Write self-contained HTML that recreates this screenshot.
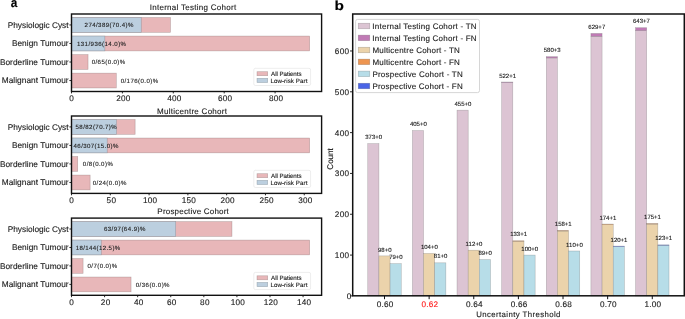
<!DOCTYPE html>
<html><head><meta charset="utf-8"><style>
html,body{margin:0;padding:0;background:#fff;overflow:hidden;}
svg{display:block;font-family:"Liberation Sans",sans-serif;will-change:transform;text-rendering:geometricPrecision;}
text{stroke:currentColor;stroke-width:0.12px;}
</style></head><body>
<svg width="685" height="319" viewBox="0 0 685 319">
<rect width="685" height="319" fill="#fff"/>
<rect x="71.50" y="17.52" width="98.99" height="14.83" fill="#e8b7b9" stroke="rgba(120,100,100,0.45)" stroke-width="0.6"/>
<rect x="71.50" y="17.52" width="69.73" height="14.83" fill="#bccfdf" stroke="rgba(100,110,120,0.45)" stroke-width="0.6"/>
<rect x="71.50" y="36.06" width="238.19" height="14.83" fill="#e8b7b9" stroke="rgba(120,100,100,0.45)" stroke-width="0.6"/>
<rect x="71.50" y="36.06" width="33.34" height="14.83" fill="#bccfdf" stroke="rgba(100,110,120,0.45)" stroke-width="0.6"/>
<rect x="71.50" y="54.60" width="16.54" height="14.83" fill="#e8b7b9" stroke="rgba(120,100,100,0.45)" stroke-width="0.6"/>
<rect x="71.50" y="73.14" width="44.79" height="14.83" fill="#e8b7b9" stroke="rgba(120,100,100,0.45)" stroke-width="0.6"/>
<text x="84.59" y="27.39" font-size="6.1" textLength="48.72" lengthAdjust="spacing" fill="#222" color="#222">274/389(70.4)%</text>
<text x="76.94" y="45.93" font-size="6.1" textLength="49.08" lengthAdjust="spacing" fill="#222" color="#222">131/936(14.0)%</text>
<text x="91.66" y="64.47" font-size="6.1" textLength="33.56" lengthAdjust="spacing" fill="#222" color="#222">0/65(0.0)%</text>
<text x="120.66" y="83.01" font-size="6.1" textLength="37.46" lengthAdjust="spacing" fill="#222" color="#222">0/176(0.0)%</text>
<line x1="69.40" y1="24.94" x2="71.50" y2="24.94" stroke="#111" stroke-width="0.9"/>
<text x="7.67" y="27.79" font-size="8.3" textLength="60.89" lengthAdjust="spacing" fill="#1a1a1a" color="#1a1a1a">Physiologic Cyst</text>
<line x1="69.40" y1="43.48" x2="71.50" y2="43.48" stroke="#111" stroke-width="0.9"/>
<text x="11.89" y="46.33" font-size="8.3" textLength="56.75" lengthAdjust="spacing" fill="#1a1a1a" color="#1a1a1a">Benign Tumour</text>
<line x1="69.40" y1="62.02" x2="71.50" y2="62.02" stroke="#111" stroke-width="0.9"/>
<text x="-0.10" y="64.87" font-size="8.3" textLength="68.73" lengthAdjust="spacing" fill="#1a1a1a" color="#1a1a1a">Borderline Tumour</text>
<line x1="69.40" y1="80.56" x2="71.50" y2="80.56" stroke="#111" stroke-width="0.9"/>
<text x="1.75" y="83.41" font-size="8.3" textLength="66.89" lengthAdjust="spacing" fill="#1a1a1a" color="#1a1a1a">Malignant Tumour</text>
<line x1="71.50" y1="91.50" x2="71.50" y2="93.40" stroke="#111" stroke-width="0.9"/>
<text x="69.36" y="100.80" font-size="8.2" textLength="4.68" lengthAdjust="spacing" fill="#1a1a1a" color="#1a1a1a">0</text>
<line x1="122.40" y1="91.50" x2="122.40" y2="93.40" stroke="#111" stroke-width="0.9"/>
<text x="116.31" y="100.80" font-size="8.2" textLength="14.07" lengthAdjust="spacing" fill="#1a1a1a" color="#1a1a1a">200</text>
<line x1="173.29" y1="91.50" x2="173.29" y2="93.40" stroke="#111" stroke-width="0.9"/>
<text x="167.32" y="100.80" font-size="8.2" textLength="14.08" lengthAdjust="spacing" fill="#1a1a1a" color="#1a1a1a">400</text>
<line x1="224.19" y1="91.50" x2="224.19" y2="93.40" stroke="#111" stroke-width="0.9"/>
<text x="218.10" y="100.80" font-size="8.2" textLength="14.07" lengthAdjust="spacing" fill="#1a1a1a" color="#1a1a1a">600</text>
<line x1="275.08" y1="91.50" x2="275.08" y2="93.40" stroke="#111" stroke-width="0.9"/>
<text x="269.03" y="100.80" font-size="8.2" textLength="14.07" lengthAdjust="spacing" fill="#1a1a1a" color="#1a1a1a">800</text>
<rect x="253.8" y="68.30" width="56.8" height="17.2" rx="1.6" fill="#fff" fill-opacity="0.8" stroke="#e0e0e0" stroke-width="0.6"/>
<rect x="257.00" y="71.70" width="10.70" height="4.00" fill="#e8b7b9" stroke="rgba(120,100,100,0.45)" stroke-width="0.6"/>
<rect x="257.00" y="78.30" width="10.70" height="4.30" fill="#bccfdf" stroke="rgba(100,110,120,0.45)" stroke-width="0.6"/>
<text x="271.09" y="75.65" font-size="6.2" textLength="30.44" lengthAdjust="spacing" fill="#1a1a1a" color="#1a1a1a">All Patients</text>
<text x="270.39" y="82.55" font-size="6.2" textLength="37.05" lengthAdjust="spacing" fill="#1a1a1a" color="#1a1a1a">Low-risk Part</text>
<text x="149.66" y="9.90" font-size="8.0" textLength="86.50" lengthAdjust="spacing" fill="#1a1a1a" color="#1a1a1a">Internal Testing Cohort</text>
<rect x="71.50" y="14.00" width="250.10" height="77.50" fill="none" stroke="#111" stroke-width="1.4"/>
<rect x="71.50" y="119.52" width="63.62" height="14.81" fill="#e8b7b9" stroke="rgba(120,100,100,0.45)" stroke-width="0.6"/>
<rect x="71.50" y="119.52" width="45.00" height="14.81" fill="#bccfdf" stroke="rgba(100,110,120,0.45)" stroke-width="0.6"/>
<rect x="71.50" y="138.03" width="238.19" height="14.81" fill="#e8b7b9" stroke="rgba(120,100,100,0.45)" stroke-width="0.6"/>
<rect x="71.50" y="138.03" width="35.69" height="14.81" fill="#bccfdf" stroke="rgba(100,110,120,0.45)" stroke-width="0.6"/>
<rect x="71.50" y="156.55" width="6.21" height="14.81" fill="#e8b7b9" stroke="rgba(120,100,100,0.45)" stroke-width="0.6"/>
<rect x="71.50" y="175.07" width="18.62" height="14.81" fill="#e8b7b9" stroke="rgba(120,100,100,0.45)" stroke-width="0.6"/>
<text x="75.56" y="129.37" font-size="6.1" textLength="41.16" lengthAdjust="spacing" fill="#222" color="#222">58/82(70.7)%</text>
<text x="73.56" y="147.89" font-size="6.1" textLength="44.76" lengthAdjust="spacing" fill="#222" color="#222">46/307(15.0)%</text>
<text x="82.86" y="166.41" font-size="6.1" textLength="29.96" lengthAdjust="spacing" fill="#222" color="#222">0/8(0.0)%</text>
<text x="92.76" y="184.93" font-size="6.1" textLength="33.56" lengthAdjust="spacing" fill="#222" color="#222">0/24(0.0)%</text>
<line x1="69.40" y1="126.92" x2="71.50" y2="126.92" stroke="#111" stroke-width="0.9"/>
<text x="7.67" y="129.77" font-size="8.3" textLength="60.89" lengthAdjust="spacing" fill="#1a1a1a" color="#1a1a1a">Physiologic Cyst</text>
<line x1="69.40" y1="145.44" x2="71.50" y2="145.44" stroke="#111" stroke-width="0.9"/>
<text x="11.89" y="148.29" font-size="8.3" textLength="56.75" lengthAdjust="spacing" fill="#1a1a1a" color="#1a1a1a">Benign Tumour</text>
<line x1="69.40" y1="163.96" x2="71.50" y2="163.96" stroke="#111" stroke-width="0.9"/>
<text x="-0.10" y="166.81" font-size="8.3" textLength="68.73" lengthAdjust="spacing" fill="#1a1a1a" color="#1a1a1a">Borderline Tumour</text>
<line x1="69.40" y1="182.48" x2="71.50" y2="182.48" stroke="#111" stroke-width="0.9"/>
<text x="1.75" y="185.33" font-size="8.3" textLength="66.89" lengthAdjust="spacing" fill="#1a1a1a" color="#1a1a1a">Malignant Tumour</text>
<line x1="71.50" y1="193.40" x2="71.50" y2="195.30" stroke="#111" stroke-width="0.9"/>
<text x="69.36" y="202.70" font-size="8.2" textLength="4.68" lengthAdjust="spacing" fill="#1a1a1a" color="#1a1a1a">0</text>
<line x1="110.29" y1="193.40" x2="110.29" y2="195.30" stroke="#111" stroke-width="0.9"/>
<text x="106.60" y="202.70" font-size="8.2" textLength="9.38" lengthAdjust="spacing" fill="#1a1a1a" color="#1a1a1a">50</text>
<line x1="149.09" y1="193.40" x2="149.09" y2="195.30" stroke="#111" stroke-width="0.9"/>
<text x="142.90" y="202.70" font-size="8.2" textLength="14.06" lengthAdjust="spacing" fill="#1a1a1a" color="#1a1a1a">100</text>
<line x1="187.88" y1="193.40" x2="187.88" y2="195.30" stroke="#111" stroke-width="0.9"/>
<text x="181.70" y="202.70" font-size="8.2" textLength="14.06" lengthAdjust="spacing" fill="#1a1a1a" color="#1a1a1a">150</text>
<line x1="226.67" y1="193.40" x2="226.67" y2="195.30" stroke="#111" stroke-width="0.9"/>
<text x="220.59" y="202.70" font-size="8.2" textLength="14.07" lengthAdjust="spacing" fill="#1a1a1a" color="#1a1a1a">200</text>
<line x1="265.47" y1="193.40" x2="265.47" y2="195.30" stroke="#111" stroke-width="0.9"/>
<text x="259.39" y="202.70" font-size="8.2" textLength="14.07" lengthAdjust="spacing" fill="#1a1a1a" color="#1a1a1a">250</text>
<line x1="304.26" y1="193.40" x2="304.26" y2="195.30" stroke="#111" stroke-width="0.9"/>
<text x="298.23" y="202.70" font-size="8.2" textLength="14.07" lengthAdjust="spacing" fill="#1a1a1a" color="#1a1a1a">300</text>
<rect x="253.8" y="170.30" width="56.8" height="17.2" rx="1.6" fill="#fff" fill-opacity="0.8" stroke="#e0e0e0" stroke-width="0.6"/>
<rect x="257.00" y="173.70" width="10.70" height="4.00" fill="#e8b7b9" stroke="rgba(120,100,100,0.45)" stroke-width="0.6"/>
<rect x="257.00" y="180.30" width="10.70" height="4.30" fill="#bccfdf" stroke="rgba(100,110,120,0.45)" stroke-width="0.6"/>
<text x="271.09" y="177.65" font-size="6.2" textLength="30.44" lengthAdjust="spacing" fill="#1a1a1a" color="#1a1a1a">All Patients</text>
<text x="270.39" y="184.55" font-size="6.2" textLength="37.05" lengthAdjust="spacing" fill="#1a1a1a" color="#1a1a1a">Low-risk Part</text>
<text x="156.99" y="113.80" font-size="8.0" textLength="69.96" lengthAdjust="spacing" fill="#1a1a1a" color="#1a1a1a">Multicentre Cohort</text>
<rect x="71.50" y="116.00" width="250.10" height="77.40" fill="none" stroke="#111" stroke-width="1.4"/>
<rect x="71.50" y="221.61" width="160.45" height="14.78" fill="#e8b7b9" stroke="rgba(120,100,100,0.45)" stroke-width="0.6"/>
<rect x="71.50" y="221.61" width="104.21" height="14.78" fill="#bccfdf" stroke="rgba(100,110,120,0.45)" stroke-width="0.6"/>
<rect x="71.50" y="240.08" width="238.19" height="14.78" fill="#e8b7b9" stroke="rgba(120,100,100,0.45)" stroke-width="0.6"/>
<rect x="71.50" y="240.08" width="29.77" height="14.78" fill="#bccfdf" stroke="rgba(100,110,120,0.45)" stroke-width="0.6"/>
<rect x="71.50" y="258.55" width="11.58" height="14.78" fill="#e8b7b9" stroke="rgba(120,100,100,0.45)" stroke-width="0.6"/>
<rect x="71.50" y="277.02" width="59.55" height="14.78" fill="#e8b7b9" stroke="rgba(120,100,100,0.45)" stroke-width="0.6"/>
<text x="103.89" y="231.45" font-size="6.1" textLength="41.53" lengthAdjust="spacing" fill="#222" color="#222">63/97(64.9)%</text>
<text x="75.64" y="249.92" font-size="6.1" textLength="44.58" lengthAdjust="spacing" fill="#222" color="#222">18/144(12.5)%</text>
<text x="87.56" y="268.38" font-size="6.1" textLength="29.66" lengthAdjust="spacing" fill="#222" color="#222">0/7(0.0)%</text>
<text x="135.76" y="286.85" font-size="6.1" textLength="33.76" lengthAdjust="spacing" fill="#222" color="#222">0/36(0.0)%</text>
<line x1="69.40" y1="229.00" x2="71.50" y2="229.00" stroke="#111" stroke-width="0.9"/>
<text x="7.67" y="231.85" font-size="8.3" textLength="60.89" lengthAdjust="spacing" fill="#1a1a1a" color="#1a1a1a">Physiologic Cyst</text>
<line x1="69.40" y1="247.47" x2="71.50" y2="247.47" stroke="#111" stroke-width="0.9"/>
<text x="11.89" y="250.32" font-size="8.3" textLength="56.75" lengthAdjust="spacing" fill="#1a1a1a" color="#1a1a1a">Benign Tumour</text>
<line x1="69.40" y1="265.93" x2="71.50" y2="265.93" stroke="#111" stroke-width="0.9"/>
<text x="-0.10" y="268.78" font-size="8.3" textLength="68.73" lengthAdjust="spacing" fill="#1a1a1a" color="#1a1a1a">Borderline Tumour</text>
<line x1="69.40" y1="284.40" x2="71.50" y2="284.40" stroke="#111" stroke-width="0.9"/>
<text x="1.75" y="287.25" font-size="8.3" textLength="66.89" lengthAdjust="spacing" fill="#1a1a1a" color="#1a1a1a">Malignant Tumour</text>
<line x1="71.50" y1="295.30" x2="71.50" y2="297.20" stroke="#111" stroke-width="0.9"/>
<text x="69.36" y="304.60" font-size="8.2" textLength="4.68" lengthAdjust="spacing" fill="#1a1a1a" color="#1a1a1a">0</text>
<line x1="104.58" y1="295.30" x2="104.58" y2="297.20" stroke="#111" stroke-width="0.9"/>
<text x="100.85" y="304.60" font-size="8.2" textLength="9.37" lengthAdjust="spacing" fill="#1a1a1a" color="#1a1a1a">20</text>
<line x1="137.66" y1="295.30" x2="137.66" y2="297.20" stroke="#111" stroke-width="0.9"/>
<text x="134.04" y="304.60" font-size="8.2" textLength="9.38" lengthAdjust="spacing" fill="#1a1a1a" color="#1a1a1a">40</text>
<line x1="170.75" y1="295.30" x2="170.75" y2="297.20" stroke="#111" stroke-width="0.9"/>
<text x="167.01" y="304.60" font-size="8.2" textLength="9.37" lengthAdjust="spacing" fill="#1a1a1a" color="#1a1a1a">60</text>
<line x1="203.83" y1="295.30" x2="203.83" y2="297.20" stroke="#111" stroke-width="0.9"/>
<text x="200.12" y="304.60" font-size="8.2" textLength="9.37" lengthAdjust="spacing" fill="#1a1a1a" color="#1a1a1a">80</text>
<line x1="236.91" y1="295.30" x2="236.91" y2="297.20" stroke="#111" stroke-width="0.9"/>
<text x="230.73" y="304.60" font-size="8.2" textLength="14.06" lengthAdjust="spacing" fill="#1a1a1a" color="#1a1a1a">100</text>
<line x1="269.99" y1="295.30" x2="269.99" y2="297.20" stroke="#111" stroke-width="0.9"/>
<text x="263.81" y="304.60" font-size="8.2" textLength="14.06" lengthAdjust="spacing" fill="#1a1a1a" color="#1a1a1a">120</text>
<line x1="303.07" y1="295.30" x2="303.07" y2="297.20" stroke="#111" stroke-width="0.9"/>
<text x="296.89" y="304.60" font-size="8.2" textLength="14.06" lengthAdjust="spacing" fill="#1a1a1a" color="#1a1a1a">140</text>
<rect x="253.8" y="272.40" width="56.8" height="17.2" rx="1.6" fill="#fff" fill-opacity="0.8" stroke="#e0e0e0" stroke-width="0.6"/>
<rect x="257.00" y="275.80" width="10.70" height="4.00" fill="#e8b7b9" stroke="rgba(120,100,100,0.45)" stroke-width="0.6"/>
<rect x="257.00" y="282.40" width="10.70" height="4.30" fill="#bccfdf" stroke="rgba(100,110,120,0.45)" stroke-width="0.6"/>
<text x="271.09" y="279.75" font-size="6.2" textLength="30.44" lengthAdjust="spacing" fill="#1a1a1a" color="#1a1a1a">All Patients</text>
<text x="270.39" y="286.65" font-size="6.2" textLength="37.05" lengthAdjust="spacing" fill="#1a1a1a" color="#1a1a1a">Low-risk Part</text>
<text x="157.34" y="214.00" font-size="8.0" textLength="71.51" lengthAdjust="spacing" fill="#1a1a1a" color="#1a1a1a">Prospective Cohort</text>
<rect x="71.50" y="218.10" width="250.10" height="77.20" fill="none" stroke="#111" stroke-width="1.4"/>
<text x="10.65" y="6.90" font-size="13.0" textLength="6.57" lengthAdjust="spacingAndGlyphs" fill="#000" color="#000" font-weight="bold">a</text>
<rect x="367.76" y="143.64" width="11.16" height="152.26" fill="#dcc4d3" stroke="rgba(110,110,110,0.5)" stroke-width="0.5"/>
<text x="365.22" y="139.24" font-size="6.0" textLength="16.85" lengthAdjust="spacing" fill="#1a1a1a" color="#1a1a1a">373+0</text>
<rect x="412.39" y="130.58" width="11.16" height="165.32" fill="#dcc4d3" stroke="rgba(110,110,110,0.5)" stroke-width="0.5"/>
<text x="409.90" y="126.18" font-size="6.0" textLength="16.85" lengthAdjust="spacing" fill="#1a1a1a" color="#1a1a1a">405+0</text>
<rect x="457.02" y="110.17" width="11.16" height="185.73" fill="#dcc4d3" stroke="rgba(110,110,110,0.5)" stroke-width="0.5"/>
<text x="454.53" y="105.77" font-size="6.0" textLength="16.85" lengthAdjust="spacing" fill="#1a1a1a" color="#1a1a1a">455+0</text>
<rect x="501.65" y="82.41" width="11.16" height="213.49" fill="#dcc4d3" stroke="rgba(110,110,110,0.5)" stroke-width="0.5"/>
<rect x="501.65" y="82.00" width="11.16" height="0.41" fill="#c07ab5" stroke="rgba(110,110,110,0.5)" stroke-width="0.5"/>
<text x="499.13" y="77.60" font-size="6.0" textLength="16.85" lengthAdjust="spacing" fill="#1a1a1a" color="#1a1a1a">522+1</text>
<rect x="546.28" y="57.92" width="11.16" height="237.98" fill="#dcc4d3" stroke="rgba(110,110,110,0.5)" stroke-width="0.5"/>
<rect x="546.28" y="56.69" width="11.16" height="1.22" fill="#c07ab5" stroke="rgba(110,110,110,0.5)" stroke-width="0.5"/>
<text x="543.75" y="52.29" font-size="6.0" textLength="16.85" lengthAdjust="spacing" fill="#1a1a1a" color="#1a1a1a">580+3</text>
<rect x="590.91" y="36.28" width="11.16" height="259.62" fill="#dcc4d3" stroke="rgba(110,110,110,0.5)" stroke-width="0.5"/>
<rect x="590.91" y="33.43" width="11.16" height="2.86" fill="#c07ab5" stroke="rgba(110,110,110,0.5)" stroke-width="0.5"/>
<text x="588.37" y="29.03" font-size="6.0" textLength="16.85" lengthAdjust="spacing" fill="#1a1a1a" color="#1a1a1a">629+7</text>
<rect x="635.54" y="30.57" width="11.16" height="265.33" fill="#dcc4d3" stroke="rgba(110,110,110,0.5)" stroke-width="0.5"/>
<rect x="635.54" y="27.71" width="11.16" height="2.86" fill="#c07ab5" stroke="rgba(110,110,110,0.5)" stroke-width="0.5"/>
<text x="633.00" y="23.31" font-size="6.0" textLength="16.85" lengthAdjust="spacing" fill="#1a1a1a" color="#1a1a1a">643+7</text>
<rect x="378.92" y="255.90" width="11.16" height="40.00" fill="#ebd3ab" stroke="rgba(110,110,110,0.5)" stroke-width="0.5"/>
<text x="378.02" y="251.50" font-size="6.0" textLength="13.51" lengthAdjust="spacing" fill="#1a1a1a" color="#1a1a1a">98+0</text>
<rect x="423.55" y="253.45" width="11.16" height="42.45" fill="#ebd3ab" stroke="rgba(110,110,110,0.5)" stroke-width="0.5"/>
<text x="420.89" y="249.05" font-size="6.0" textLength="16.85" lengthAdjust="spacing" fill="#1a1a1a" color="#1a1a1a">104+0</text>
<rect x="468.18" y="250.18" width="11.16" height="45.72" fill="#ebd3ab" stroke="rgba(110,110,110,0.5)" stroke-width="0.5"/>
<text x="465.52" y="245.78" font-size="6.0" textLength="16.85" lengthAdjust="spacing" fill="#1a1a1a" color="#1a1a1a">112+0</text>
<rect x="512.81" y="241.20" width="11.16" height="54.70" fill="#ebd3ab" stroke="rgba(110,110,110,0.5)" stroke-width="0.5"/>
<rect x="512.81" y="240.79" width="11.16" height="0.41" fill="#ee9550" stroke="rgba(110,110,110,0.5)" stroke-width="0.5"/>
<text x="510.18" y="236.39" font-size="6.0" textLength="16.85" lengthAdjust="spacing" fill="#1a1a1a" color="#1a1a1a">133+1</text>
<rect x="557.44" y="231.00" width="11.16" height="64.90" fill="#ebd3ab" stroke="rgba(110,110,110,0.5)" stroke-width="0.5"/>
<rect x="557.44" y="230.59" width="11.16" height="0.41" fill="#ee9550" stroke="rgba(110,110,110,0.5)" stroke-width="0.5"/>
<text x="554.81" y="226.19" font-size="6.0" textLength="16.85" lengthAdjust="spacing" fill="#1a1a1a" color="#1a1a1a">158+1</text>
<rect x="602.07" y="224.46" width="11.16" height="71.44" fill="#ebd3ab" stroke="rgba(110,110,110,0.5)" stroke-width="0.5"/>
<rect x="602.07" y="224.06" width="11.16" height="0.41" fill="#ee9550" stroke="rgba(110,110,110,0.5)" stroke-width="0.5"/>
<text x="599.44" y="219.66" font-size="6.0" textLength="16.85" lengthAdjust="spacing" fill="#1a1a1a" color="#1a1a1a">174+1</text>
<rect x="646.70" y="224.06" width="11.16" height="71.84" fill="#ebd3ab" stroke="rgba(110,110,110,0.5)" stroke-width="0.5"/>
<rect x="646.70" y="223.65" width="11.16" height="0.41" fill="#ee9550" stroke="rgba(110,110,110,0.5)" stroke-width="0.5"/>
<text x="644.07" y="219.25" font-size="6.0" textLength="16.85" lengthAdjust="spacing" fill="#1a1a1a" color="#1a1a1a">175+1</text>
<rect x="390.08" y="263.65" width="11.16" height="32.25" fill="#b7dde8" stroke="rgba(110,110,110,0.5)" stroke-width="0.5"/>
<text x="389.16" y="259.25" font-size="6.0" textLength="13.51" lengthAdjust="spacing" fill="#1a1a1a" color="#1a1a1a">79+0</text>
<rect x="434.71" y="262.84" width="11.16" height="33.06" fill="#b7dde8" stroke="rgba(110,110,110,0.5)" stroke-width="0.5"/>
<text x="433.82" y="258.44" font-size="6.0" textLength="13.51" lengthAdjust="spacing" fill="#1a1a1a" color="#1a1a1a">81+0</text>
<rect x="479.34" y="259.57" width="11.16" height="36.33" fill="#b7dde8" stroke="rgba(110,110,110,0.5)" stroke-width="0.5"/>
<text x="478.45" y="255.17" font-size="6.0" textLength="13.51" lengthAdjust="spacing" fill="#1a1a1a" color="#1a1a1a">89+0</text>
<rect x="523.97" y="255.08" width="11.16" height="40.82" fill="#b7dde8" stroke="rgba(110,110,110,0.5)" stroke-width="0.5"/>
<text x="521.31" y="250.68" font-size="6.0" textLength="16.85" lengthAdjust="spacing" fill="#1a1a1a" color="#1a1a1a">100+0</text>
<rect x="568.60" y="251.00" width="11.16" height="44.90" fill="#b7dde8" stroke="rgba(110,110,110,0.5)" stroke-width="0.5"/>
<text x="565.94" y="246.60" font-size="6.0" textLength="16.85" lengthAdjust="spacing" fill="#1a1a1a" color="#1a1a1a">110+0</text>
<rect x="613.23" y="246.51" width="11.16" height="49.39" fill="#b7dde8" stroke="rgba(110,110,110,0.5)" stroke-width="0.5"/>
<rect x="613.23" y="246.10" width="11.16" height="0.41" fill="#4a64e6" stroke="rgba(110,110,110,0.5)" stroke-width="0.5"/>
<text x="610.60" y="241.70" font-size="6.0" textLength="16.85" lengthAdjust="spacing" fill="#1a1a1a" color="#1a1a1a">120+1</text>
<rect x="657.86" y="245.28" width="11.16" height="50.62" fill="#b7dde8" stroke="rgba(110,110,110,0.5)" stroke-width="0.5"/>
<rect x="657.86" y="244.87" width="11.16" height="0.41" fill="#4a64e6" stroke="rgba(110,110,110,0.5)" stroke-width="0.5"/>
<text x="655.23" y="240.47" font-size="6.0" textLength="16.85" lengthAdjust="spacing" fill="#1a1a1a" color="#1a1a1a">123+1</text>
<line x1="350.00" y1="295.90" x2="352.70" y2="295.90" stroke="#111" stroke-width="0.9"/>
<text x="346.78" y="299.30" font-size="8.2" textLength="4.24" lengthAdjust="spacing" fill="#1a1a1a" color="#1a1a1a">0</text>
<line x1="350.00" y1="255.08" x2="352.70" y2="255.08" stroke="#111" stroke-width="0.9"/>
<text x="334.80" y="257.98" font-size="8.2" textLength="14.32" lengthAdjust="spacing" fill="#1a1a1a" color="#1a1a1a">100</text>
<line x1="350.00" y1="214.26" x2="352.70" y2="214.26" stroke="#111" stroke-width="0.9"/>
<text x="334.79" y="217.16" font-size="8.2" textLength="14.33" lengthAdjust="spacing" fill="#1a1a1a" color="#1a1a1a">200</text>
<line x1="350.00" y1="173.44" x2="352.70" y2="173.44" stroke="#111" stroke-width="0.9"/>
<text x="334.79" y="176.34" font-size="8.2" textLength="14.33" lengthAdjust="spacing" fill="#1a1a1a" color="#1a1a1a">300</text>
<line x1="350.00" y1="132.62" x2="352.70" y2="132.62" stroke="#111" stroke-width="0.9"/>
<text x="334.78" y="135.52" font-size="8.2" textLength="14.34" lengthAdjust="spacing" fill="#1a1a1a" color="#1a1a1a">400</text>
<line x1="350.00" y1="91.80" x2="352.70" y2="91.80" stroke="#111" stroke-width="0.9"/>
<text x="334.79" y="94.70" font-size="8.2" textLength="14.33" lengthAdjust="spacing" fill="#1a1a1a" color="#1a1a1a">500</text>
<line x1="350.00" y1="50.98" x2="352.70" y2="50.98" stroke="#111" stroke-width="0.9"/>
<text x="334.79" y="53.88" font-size="8.2" textLength="14.33" lengthAdjust="spacing" fill="#1a1a1a" color="#1a1a1a">600</text>
<line x1="384.50" y1="295.80" x2="384.50" y2="299.20" stroke="#111" stroke-width="1.0"/>
<text x="376.81" y="306.90" font-size="8.2" textLength="16.57" lengthAdjust="spacing" fill="#1a1a1a" color="#1a1a1a">0.60</text>
<line x1="429.13" y1="295.80" x2="429.13" y2="299.20" stroke="#111" stroke-width="1.0"/>
<text x="421.49" y="306.90" font-size="8.2" textLength="16.57" lengthAdjust="spacing" fill="#ff1a1a" color="#ff1a1a">0.62</text>
<line x1="473.76" y1="295.80" x2="473.76" y2="299.20" stroke="#111" stroke-width="1.0"/>
<text x="466.03" y="306.90" font-size="8.2" textLength="16.58" lengthAdjust="spacing" fill="#1a1a1a" color="#1a1a1a">0.64</text>
<line x1="518.39" y1="295.80" x2="518.39" y2="299.20" stroke="#111" stroke-width="1.0"/>
<text x="510.72" y="306.90" font-size="8.2" textLength="16.57" lengthAdjust="spacing" fill="#1a1a1a" color="#1a1a1a">0.66</text>
<line x1="563.02" y1="295.80" x2="563.02" y2="299.20" stroke="#111" stroke-width="1.0"/>
<text x="555.35" y="306.90" font-size="8.2" textLength="16.57" lengthAdjust="spacing" fill="#1a1a1a" color="#1a1a1a">0.68</text>
<line x1="607.65" y1="295.80" x2="607.65" y2="299.20" stroke="#111" stroke-width="1.0"/>
<text x="599.96" y="306.90" font-size="8.2" textLength="16.57" lengthAdjust="spacing" fill="#1a1a1a" color="#1a1a1a">0.70</text>
<line x1="652.28" y1="295.80" x2="652.28" y2="299.20" stroke="#111" stroke-width="1.0"/>
<text x="644.45" y="306.90" font-size="8.2" textLength="16.56" lengthAdjust="spacing" fill="#1a1a1a" color="#1a1a1a">1.00</text>
<text x="476.20" y="317.00" font-size="7.8" textLength="84.20" lengthAdjust="spacing" fill="#1a1a1a" color="#1a1a1a">Uncertainty Threshold</text>
<g transform="translate(332.6,169.3) rotate(-90)">
<text x="-0.41" y="0" font-size="8.2" textLength="21.57" lengthAdjust="spacingAndGlyphs" fill="#1a1a1a">Count</text>
</g>
<rect x="355.6" y="19.4" width="123.9" height="73.2" rx="2" fill="#fff" fill-opacity="0.8" stroke="#cccccc" stroke-width="0.8"/>
<rect x="358.20" y="23.20" width="11.60" height="5.60" fill="#dcc4d3" stroke="rgba(110,110,110,0.5)" stroke-width="0.5"/>
<text x="372.36" y="28.80" font-size="8.0" textLength="104.29" lengthAdjust="spacing" fill="#1a1a1a" color="#1a1a1a">Internal Testing Cohort - TN</text>
<rect x="358.20" y="35.10" width="11.60" height="5.60" fill="#c07ab5" stroke="rgba(110,110,110,0.5)" stroke-width="0.5"/>
<text x="372.36" y="40.70" font-size="8.0" textLength="104.29" lengthAdjust="spacing" fill="#1a1a1a" color="#1a1a1a">Internal Testing Cohort - FN</text>
<rect x="358.20" y="47.20" width="11.60" height="5.60" fill="#ebd3ab" stroke="rgba(110,110,110,0.5)" stroke-width="0.5"/>
<text x="372.44" y="52.80" font-size="8.0" textLength="87.44" lengthAdjust="spacing" fill="#1a1a1a" color="#1a1a1a">Multicentre Cohort - TN</text>
<rect x="358.20" y="59.10" width="11.60" height="5.60" fill="#ee9550" stroke="rgba(110,110,110,0.5)" stroke-width="0.5"/>
<text x="372.44" y="64.70" font-size="8.0" textLength="87.44" lengthAdjust="spacing" fill="#1a1a1a" color="#1a1a1a">Multicentre Cohort - FN</text>
<rect x="358.20" y="71.10" width="11.60" height="5.60" fill="#b7dde8" stroke="rgba(110,110,110,0.5)" stroke-width="0.5"/>
<text x="372.44" y="76.70" font-size="8.0" textLength="90.25" lengthAdjust="spacing" fill="#1a1a1a" color="#1a1a1a">Prospective Cohort - TN</text>
<rect x="358.20" y="83.20" width="11.60" height="5.60" fill="#4a64e6" stroke="rgba(110,110,110,0.5)" stroke-width="0.5"/>
<text x="372.44" y="88.80" font-size="8.0" textLength="90.25" lengthAdjust="spacing" fill="#1a1a1a" color="#1a1a1a">Prospective Cohort - FN</text>
<rect x="352.70" y="14.00" width="331.60" height="281.80" fill="none" stroke="#111" stroke-width="1.5"/>
<text x="334.58" y="9.60" font-size="13.0" textLength="9.46" lengthAdjust="spacingAndGlyphs" fill="#000" color="#000" font-weight="bold">b</text>
</svg></body></html>
